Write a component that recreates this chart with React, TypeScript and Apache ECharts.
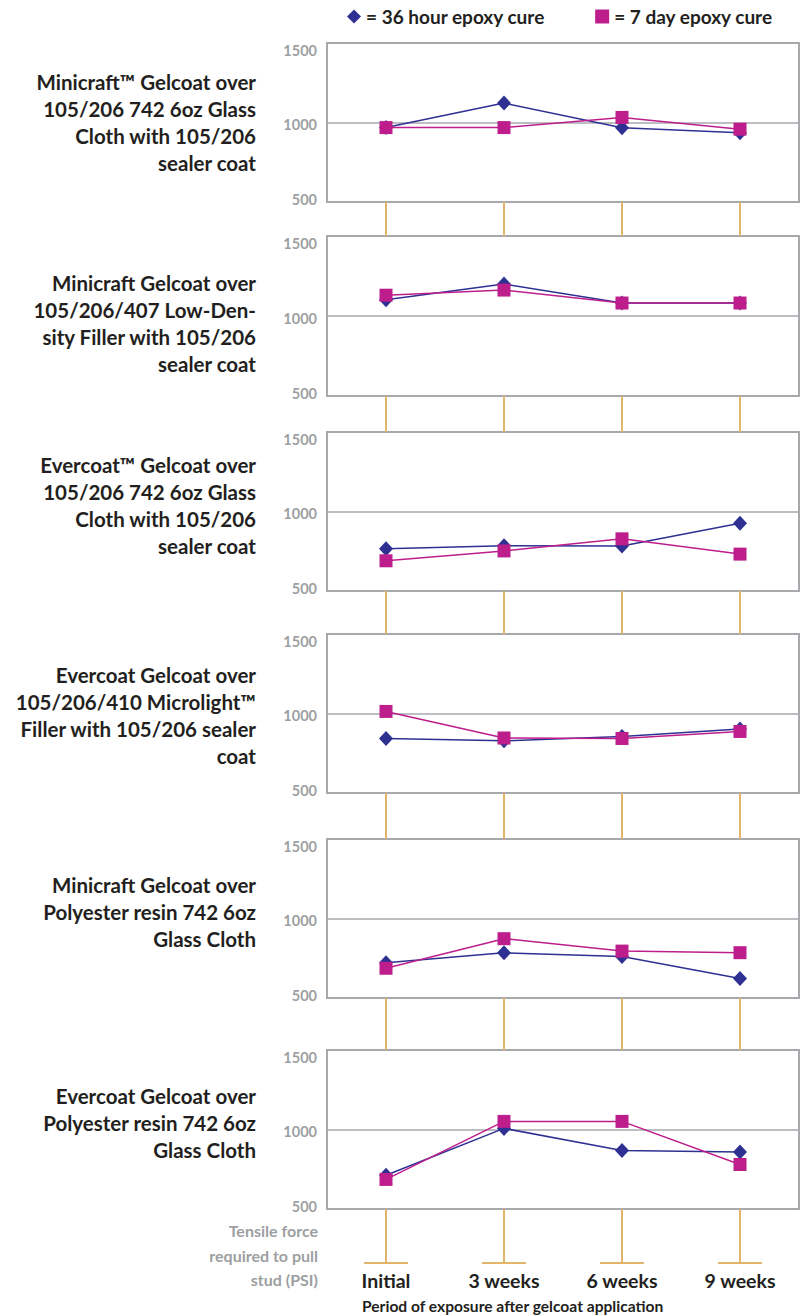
import React, { useEffect, useRef } from "react";
import * as echarts from "echarts";

const categories = ["Initial", "3 weeks", "6 weeks", "9 weeks"];
const seriesNames = ["= 36 hour epoxy cure", "= 7 day epoxy cure"];
const yTicks = [500, 1000, 1500];

const panelTitles = [
  "Minicraft™ Gelcoat over\n105/206 742 6oz Glass\nCloth with 105/206\nsealer coat",
  "Minicraft Gelcoat over\n105/206/407 Low-Den-\nsity Filler with 105/206\nsealer coat",
  "Evercoat™ Gelcoat over\n105/206 742 6oz Glass\nCloth with 105/206\nsealer coat",
  "Evercoat Gelcoat over\n105/206/410 Microlight™\nFiller with 105/206 sealer\ncoat",
  "Minicraft Gelcoat over\nPolyester resin 742 6oz\nGlass Cloth",
  "Evercoat Gelcoat over\nPolyester resin 742 6oz\nGlass Cloth",
];

const cure36h = [
  [968, 1122, 967, 935],
  [1102, 1200, 1081, 1081],
  [765, 785, 783, 926],
  [842, 828, 856, 902],
  [721, 784, 761, 622],
  [712, 1007, 868, 859],
];

const cure7d = [
  [968, 968, 1032, 958],
  [1130, 1162, 1081, 1081],
  [690, 752, 828, 732],
  [1013, 846, 843, 887],
  [687, 873, 795, 785],
  [686, 1051, 1051, 780],
];

const yAxisTitle = "Tensile force\nrequired to pull\nstud (PSI)";
const xAxisTitle = "Period of exposure after gelcoat application";

// layout
const panelTops = [43, 236, 432, 634, 839, 1050];
const panelHeights = [159, 160, 159, 159, 159, 159];
const titleCenters = [122, 323, 505, 715, 912, 1123];
const baseLineY = 1263;

const FONT = "Lato";
const DARK = "#231F20";
const GRAY = "#9D9FA2";
const BORDER = "#A7A9AC";
const ORANGE = "#E2B56B";
const BLUE = "#2E3192";
const MAGENTA = "#BD1E8C";

export default function App() {
  const ref = useRef<HTMLDivElement>(null);

  useEffect(() => {
    document.body.style.margin = "0";
    if (!ref.current) return;
    const chart = echarts.init(ref.current, undefined, { renderer: "svg" });

    const n = panelTops.length;
    const grids: any[] = [];
    const xAxes: any[] = [];
    const yAxes: any[] = [];
    const series: any[] = [];
    const graphics: any[] = [];

    for (let i = 0; i < n; i++) {
      const bottom = panelTops[i] + panelHeights[i];
      const tickLen = i < n - 1 ? panelTops[i + 1] - bottom : baseLineY - bottom;
      const isLast = i === n - 1;
      grids.push({
        left: 327,
        right: 2,
        top: panelTops[i],
        height: panelHeights[i],
        show: true,
        borderColor: BORDER,
        borderWidth: 2,
        backgroundColor: "transparent",
      });
      xAxes.push({
        type: "category",
        gridIndex: i,
        data: categories,
        boundaryGap: true,
        axisLine: { show: true, lineStyle: { color: BORDER, width: 2 } },
        axisTick: {
          show: true,
          alignWithLabel: true,
          length: tickLen,
          lineStyle: { color: ORANGE, width: 2 },
        },
        splitLine: { show: false },
        axisLabel: isLast
          ? {
              show: true,
              margin: tickLen - 1,
              formatter: (v: string) => `{bar| }\n{lbl|${v}}`,
              rich: {
                bar: {
                  width: 44,
                  height: 2,
                  lineHeight: 2,
                  fontSize: 2,
                  backgroundColor: ORANGE,
                },
                lbl: {
                  fontFamily: FONT,
                  fontWeight: "bold",
                  fontSize: 19.5,
                  color: DARK,
                  lineHeight: 33,
                },
              },
            }
          : { show: false },
      });
      yAxes.push({
        type: "value",
        gridIndex: i,
        min: yTicks[0],
        max: yTicks[yTicks.length - 1],
        interval: yTicks[1] - yTicks[0],
        axisLine: { show: false },
        axisTick: { show: false },
        splitLine: { show: true, lineStyle: { color: BORDER, width: 1.5 } },
        axisLabel: {
          margin: 10,
          formatter: (v: number) =>
            v === yTicks[yTicks.length - 1]
              ? `{mx|${v}}`
              : v === yTicks[0]
              ? `{mn|${v}}`
              : `{md|${v}}`,
          rich: {
            mx: { fontFamily: FONT, fontWeight: "bold", fontSize: 14.5, color: GRAY, padding: [14, 0, 0, 0] },
            mn: { fontFamily: FONT, fontWeight: "bold", fontSize: 14.5, color: GRAY, padding: [0, 0, 6, 0] },
            md: { fontFamily: FONT, fontWeight: "bold", fontSize: 14.5, color: GRAY, padding: [4, 0, 0, 0] },
          },
        },
      });
      series.push({
        type: "line",
        name: seriesNames[0],
        xAxisIndex: i,
        yAxisIndex: i,
        data: cure36h[i],
        symbol: "diamond",
        symbolSize: [14, 15],
        color: BLUE,
        itemStyle: { color: BLUE },
        lineStyle: { color: BLUE, width: 1.5 },
        z: 3,
      });
      series.push({
        type: "line",
        name: seriesNames[1],
        xAxisIndex: i,
        yAxisIndex: i,
        data: cure7d[i],
        symbol: "rect",
        symbolSize: 13,
        color: MAGENTA,
        itemStyle: { color: MAGENTA },
        lineStyle: { color: MAGENTA, width: 1.5 },
        z: 4,
      });
      graphics.push({
        type: "text",
        x: 256,
        y: titleCenters[i],
        style: {
          text: panelTitles[i],
          fill: DARK,
          font: `bold 20.5px ${FONT}`,
          lineHeight: 27,
          align: "right",
          verticalAlign: "middle",
        },
      });
    }

    graphics.push({
      type: "text",
      x: 318,
      y: 1255,
      style: {
        text: yAxisTitle,
        fill: GRAY,
        font: `bold 16px ${FONT}`,
        lineHeight: 24.5,
        align: "right",
        verticalAlign: "middle",
      },
    });
    graphics.push({
      type: "text",
      x: 362,
      y: 1306,
      style: {
        text: xAxisTitle,
        fill: DARK,
        font: `bold 15.6px ${FONT}`,
        align: "left",
        verticalAlign: "middle",
      },
    });

    chart.setOption({
      animation: false,
      backgroundColor: "#ffffff",
      legend: {
        left: 342,
        top: 2,
        itemWidth: 14,
        itemHeight: 14,
        itemGap: 50,
        data: [
          { name: seriesNames[0], icon: "diamond" },
          { name: seriesNames[1], icon: "rect" },
        ],
        textStyle: { fontFamily: FONT, fontWeight: "bold", fontSize: 19, color: DARK },
        selectedMode: false,
      },
      grid: grids,
      xAxis: xAxes,
      yAxis: yAxes,
      series,
      graphic: graphics,
    });

    return () => chart.dispose();
  }, []);

  return <div ref={ref} style={{ width: 801, height: 1316 }} />;
}
